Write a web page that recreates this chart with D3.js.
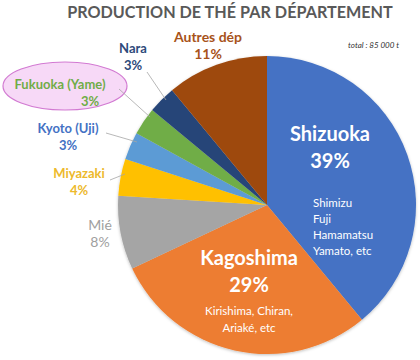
<!DOCTYPE html>
<html><head><meta charset="utf-8">
<script src="https://cdn.jsdelivr.net/npm/d3@7"></script>
<style>body{margin:0;background:#fff}svg{display:block}text{font-family:Lato,"Open Sans",sans-serif}</style>
</head><body><svg id="c" width="420" height="360"></svg>
<script>
const categories = ["Shizuoka","Kagoshima","Mié","Miyazaki","Kyoto (Uji)","Fukuoka (Yame)","Nara","Autres dép"];
const values = [39, 29, 8, 4, 3, 3, 3, 11];
const colors = ["#4472C4","#ED7D31","#A5A5A5","#FFC000","#5B9BD5","#70AD47","#264478","#9E480E"];
const labelColors = ["#fff","#fff","#A0A0A0","#EDB92C","#4472C4","#70AD47","#2E4A7A","#A8531A"];
const subLabels = [["Shimizu","Fuji","Hamamatsu","Yamato, etc"],["Kirishima, Chiran,","Ariaké, etc"]];
const title = "PRODUCTION DE THÉ PAR DÉPARTEMENT";
const totalNote = "total : 85 000 t";

const svg = d3.select("#c");
const cx = 267, cy = 205, R = 149;
const pie = d3.pie().sort(null).value(d => d);
const arcs = pie(values);
const arc = d3.arc().innerRadius(0).outerRadius(R);
const defs = svg.append("defs");
const f = defs.append("filter").attr("id","sh").attr("x","-10%").attr("y","-10%").attr("width","120%").attr("height","120%");
f.append("feDropShadow").attr("dx",0).attr("dy",1).attr("stdDeviation",1.5).attr("flood-color","#000").attr("flood-opacity",0.25);
const g = svg.append("g").attr("transform", `translate(${cx},${cy})`).attr("filter","url(#sh)");
g.selectAll("path").data(arcs).join("path")
  .attr("d", arc).attr("fill", (d,i) => colors[i]);

svg.append("text").attr("x", 230).attr("y", 18).attr("text-anchor","middle")
  .attr("font-size", 16.2).attr("font-weight", "bold").attr("fill", "#595959").text(title);
svg.append("text").attr("x", 399).attr("y", 48).attr("text-anchor","end")
  .attr("font-size", 8).attr("font-style","italic").attr("fill","#333").text(totalNote);

// Fukuoka highlight ellipse
svg.append("ellipse").attr("cx", 65).attr("cy", 86).attr("rx", 62).attr("ry", 24)
  .attr("fill", "#F7D9F7").attr("stroke", "#D27AD2").attr("stroke-width", 1.2);

// inner labels
const inner = [{i:0, x:330, y:141, sx:313, sy:207, anchor:"start", dy:16},
               {i:1, x:249, y:265, sx:249, sy:315, anchor:"middle", dy:17}];
inner.forEach(o => {
  svg.append("text").attr("x", o.x).attr("y", o.y).attr("text-anchor","middle")
    .attr("font-size", 20).attr("font-weight","bold").attr("fill","#fff").text(categories[o.i]);
  svg.append("text").attr("x", o.x).attr("y", o.y + 27).attr("text-anchor","middle")
    .attr("font-size", 20).attr("font-weight","bold").attr("fill","#fff").text(values[o.i] + "%");
  subLabels[o.i].forEach((s, k) => {
    svg.append("text").attr("x", o.sx).attr("y", o.sy + k * o.dy).attr("text-anchor", o.anchor)
      .attr("font-size", 11.5).attr("fill", "#fff").text(s);
  });
});

// outer labels
const outer = [
  {i:2, x:100, y:230, fs:14, bold:false, line:null},
  {i:3, x:79, y:178, fs:13, bold:true, line:[[110,180],[125,174]]},
  {i:4, x:68, y:133, fs:13, bold:true, line:[[106,133],[137,142]]},
  {i:5, x:60, y:89, fs:13, bold:true, line:[[119,89],[150,117]], pctX:90},
  {i:6, x:133, y:53, fs:13, bold:true, line:[[147,72],[166,100]]},
  {i:7, x:208, y:42, fs:14, bold:true, line:null}
];
outer.forEach(o => {
  if (o.line) svg.append("path").attr("d", d3.line()(o.line)).attr("stroke","#A6A6A6")
    .attr("stroke-width", 0.8).attr("fill","none");
  const fw = o.bold ? "bold" : "normal";
  svg.append("text").attr("x", o.x).attr("y", o.y).attr("text-anchor","middle")
    .attr("font-size", o.fs).attr("font-weight", fw).attr("fill", labelColors[o.i]).text(categories[o.i]);
  svg.append("text").attr("x", o.pctX || o.x).attr("y", o.y + 17).attr("text-anchor","middle")
    .attr("font-size", o.fs).attr("font-weight", fw).attr("fill", labelColors[o.i]).text(values[o.i] + "%");
});
</script></body></html>
